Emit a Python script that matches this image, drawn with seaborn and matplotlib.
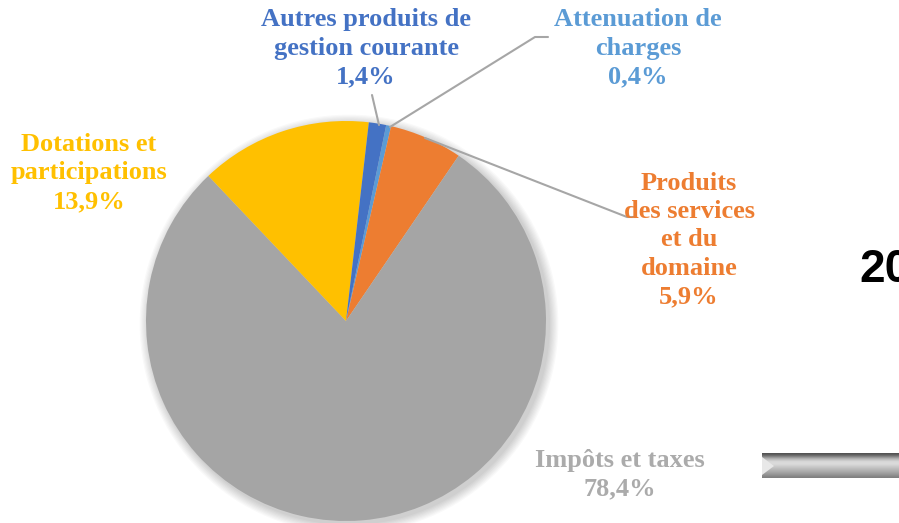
import numpy as np
import matplotlib.pyplot as plt
import seaborn as sns
from matplotlib.patches import Circle, Polygon

# donnees (ordre horaire a partir du haut)
categories = ["Attenuation de\ncharges", "Produits\ndes services\net du\ndomaine",
              "Impôts et taxes", "Dotations et\nparticipations",
              "Autres produits de\ngestion courante"]
valeurs = [0.4, 5.9, 78.4, 13.9, 1.4]
etiquettes = ["0,4%", "5,9%", "78,4%", "13,9%", "1,4%"]
couleurs = ["#5B9BD5", "#ED7D31", "#A5A5A5", "#FFC000", "#4472C4"]
couleurs_texte = ["#5B9BD5", "#ED7D31", "#ABABAB", "#FFC000", "#4472C4"]

sns.set_theme(style="white")
plt.rcParams['font.family'] = ['Liberation Serif', 'DejaVu Serif']

W, H = 899, 523
fig = plt.figure(figsize=(W / 100, H / 100), dpi=100)
ax = fig.add_axes([0, 0, 1, 1])

cx, cy, r = 346, H - 321, 200

# ombre douce du camembert
for k in range(8):
    ax.add_patch(Circle((cx + 3, cy - 3), r + 1 + k * 1.2, color='black',
                        alpha=0.025, lw=0, zorder=0))

ax.pie(valeurs, colors=sns.color_palette(couleurs), startangle=78.4,
       counterclock=False, center=(cx, cy), radius=r, frame=True,
       wedgeprops=dict(linewidth=0, zorder=2))

# etiquettes (positions en pixels)
pos = [(638, 48), (689, 240), (620, 475), (89, 173), (366, 48)]
for cat, lab, col, (x, y) in zip(categories, etiquettes, couleurs_texte, pos):
    ax.text(x, H - y, cat + "\n" + lab, ha='center', va='center', color=col,
            fontsize=19, fontweight='bold', linespacing=1.3, zorder=5)

# lignes de rappel
gris = "#A6A6A6"
ax.plot([372, 379], [H - 95, H - 125], color=gris, lw=1.5, zorder=4)
ax.plot([548, 535, 390], [H - 37, H - 37, H - 127], color=gris, lw=1.5, zorder=4)
ax.plot([425, 627, 636], [H - 138, H - 217, H - 217], color=gris, lw=1.5, zorder=4)

# elements decoupes a droite
ax.text(859, H - 270, "20", ha='left', va='center', fontsize=33,
        fontweight='bold', family=['Liberation Sans', 'DejaVu Sans'], color='black')

grad = np.array([0.33, 0.42, 0.55, 0.68, 0.78, 0.84, 0.86, 0.84, 0.80, 0.76,
                 0.72, 0.68, 0.64, 0.60, 0.55, 0.50])
img = np.tile(grad[:, None], (1, 10))
ax.imshow(img, cmap='gray', vmin=0, vmax=1, extent=[762, 899, H - 478, H - 453],
          aspect='auto', zorder=3, interpolation='bilinear')
ax.add_patch(Polygon([[762, H - 457], [774, H - 466], [762, H - 475]],
                     closed=True, color='#E8E8E8', lw=0, zorder=4))

ax.set_xlim(0, W)
ax.set_ylim(0, H)
ax.set_aspect('auto')
ax.axis('off')

fig.savefig("out.png", dpi=100)
